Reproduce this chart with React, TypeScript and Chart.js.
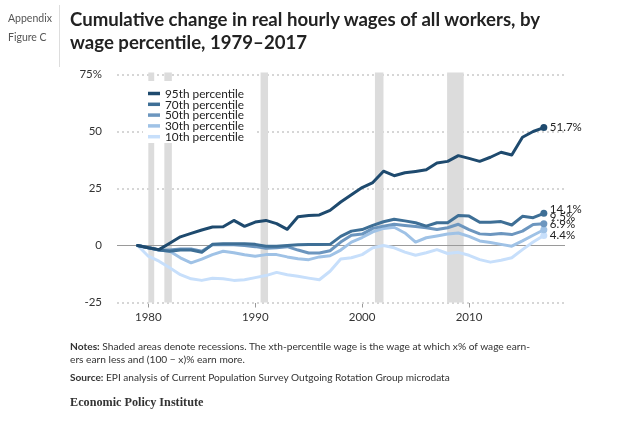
import { useEffect, useRef } from "react";
import { Chart, registerables } from "chart.js";

Chart.register(...registerables);

const years = [
  1979, 1980, 1981, 1982, 1983, 1984, 1985, 1986, 1987, 1988, 1989, 1990, 1991,
  1992, 1993, 1994, 1995, 1996, 1997, 1998, 1999, 2000, 2001, 2002, 2003, 2004,
  2005, 2006, 2007, 2008, 2009, 2010, 2011, 2012, 2013, 2014, 2015, 2016, 2017,
];

const p95 = [
  0, -1, -1.8, 1, 3.8, 5.3, 6.8, 8.1, 8.2, 11, 8.4, 10.3, 11, 9.6, 7.1, 12.6,
  13.2, 13.4, 15.4, 19.1, 22.3, 25.4, 27.6, 32.6, 30.6, 31.9, 32.5, 33.2, 36.2,
  36.9, 39.4, 38.2, 36.9, 38.7, 40.9, 39.7, 47.5, 50, 51.7,
];
const p70 = [
  0, -1, -2, -2.5, -2, -2, -3, 0.5, 0.8, 0.8, 0.8, 0.5, -0.3, -0.3, 0, 0.3, 0.4,
  0.4, 0.5, 4, 6.3, 7, 8.8, 10.4, 11.5, 10.8, 10, 8.5, 10, 10, 13.2, 12.9, 10.2,
  10.2, 10.5, 9, 12.8, 12.2, 14.1,
];
const p50 = [
  0, -1, -2, -2, -1.5, -1.5, -2.5, 0.3, 0.3, 0.3, 0, -0.5, -1.2, -1, -0.5, -2,
  -3.3, -3.3, -2.3, 1.5, 4.5, 5, 7.5, 8.5, 9.3, 8.8, 8.3, 7.8, 7, 7.8, 9.3, 7,
  5.1, 4.8, 5.3, 4.8, 6.3, 9.2, 9.5,
];
const p30 = [
  0, -1, -2, -2.5, -5.4, -7.6, -6, -4, -2.5, -3.2, -4.1, -4.7, -4, -4, -5, -5.8,
  -6.2, -5, -4.5, -2, 1.5, 3.5, 6, 7.5, 8, 5.5, 1.5, 3.4, 4.2, 5, 5.5, 4, 2, 1.3,
  0.5, -0.3, 2, 4.5, 6.9,
];
const p10 = [
  0, -4.7, -6.9, -9.8, -12.8, -14.6, -15.3, -14.4, -14.6, -15.3, -15, -14.1,
  -13.2, -11.8, -12.8, -13.5, -14.3, -15, -11.3, -5.9, -5.4, -4, -1, 0, -1, -2.9,
  -4.3, -3.2, -1.8, -3.5, -3, -4.3, -6.2, -7.3, -6.5, -5.4, -1.8, 1.5, 4.4,
];

const seriesNames = [
  "95th percentile",
  "70th percentile",
  "50th percentile",
  "30th percentile",
  "10th percentile",
];
const seriesValues = [p95, p70, p50, p30, p10];
const endLabels = ["51.7%", "14.1%", "9.5%", "6.9%", "4.4%"];

// recessions (start, end) in fractional years
const recessions = [
  [1980.0, 1980.55],
  [1981.5, 1982.2],
  [1990.5, 1991.2],
  [2001.2, 2002.0],
  [2007.95, 2009.5],
];

const xTicks = [1980, 1990, 2000, 2010];
const yTicks = [-25, 0, 25, 50, 75];

const colors = ["#1e4a6e", "#3e6f96", "#6c96bf", "#9fc2e6", "#c7dffb"];
const labelShift = [0, -4, -7, -5, 0];

const FONT = "Lato, 'Open Sans', sans-serif";

const bandsPlugin = {
  id: "bands",
  beforeDatasetsDraw(chart: any) {
    const { ctx, chartArea, scales } = chart;
    const x = scales.x;
    const y = scales.y;
    ctx.save();
    ctx.fillStyle = "#dcdcdc";
    recessions.forEach(([a, b]) => {
      const x0 = x.getPixelForValue(a);
      const x1 = x.getPixelForValue(b);
      ctx.fillRect(x0, chartArea.top - 2, x1 - x0, chartArea.bottom - chartArea.top + 2);
    });
    // solid zero line
    const y0 = y.getPixelForValue(0);
    ctx.strokeStyle = "#9a9a9a";
    ctx.lineWidth = 1;
    ctx.beginPath();
    ctx.moveTo(chartArea.left, y0);
    ctx.lineTo(chartArea.right, y0);
    ctx.stroke();
    ctx.restore();
  },
};

const labelsPlugin = {
  id: "endLabels",
  afterDatasetsDraw(chart: any) {
    const { ctx } = chart;
    ctx.save();
    ctx.font = `11.5px ${FONT}`;
    ctx.fillStyle = "#222";
    ctx.textBaseline = "middle";
    ctx.textAlign = "left";
    chart.data.datasets.forEach((_: any, i: number) => {
      const meta = chart.getDatasetMeta(i);
      const pt = meta.data[meta.data.length - 1];
      ctx.fillText(endLabels[i], pt.x + 6, pt.y + labelShift[i]);
    });

    // legend box in the upper left of the plot
    ctx.font = `11.8px ${FONT}`;
    ctx.fillStyle = "#fff";
    ctx.fillRect(143, 81, 112, 62);
    seriesNames.forEach((name, i) => {
      const yy = 93.5 + i * 10.8;
      ctx.strokeStyle = colors[i];
      ctx.lineWidth = 3.5;
      ctx.beginPath();
      ctx.moveTo(148, yy);
      ctx.lineTo(160, yy);
      ctx.stroke();
      ctx.fillStyle = "#222";
      ctx.fillText(name, 165, yy + 0.5);
    });
    ctx.restore();
  },
};

export default function App() {
  const ref = useRef<HTMLCanvasElement>(null);

  useEffect(() => {
    if (!ref.current) return;
    const last = years.length - 1;
    const chart = new Chart(ref.current, {
      type: "line",
      data: {
        datasets: seriesValues.map((vals, i) => ({
          label: seriesNames[i],
          data: years.map((yr, j) => ({ x: yr, y: vals[j] })),
          borderColor: colors[i],
          backgroundColor: colors[i],
          borderWidth: 3,
          borderJoinStyle: "round" as const,
          borderCapStyle: "round" as const,
          tension: 0,
          pointRadius: (c: any) => (c.dataIndex === last ? 3.5 : 0),
          pointHoverRadius: 0,
          pointBorderWidth: 0,
        })),
      },
      options: {
        responsive: false,
        animation: false,
        events: [],
        layout: { padding: { left: 0, right: 75, top: 74.5, bottom: 92.5 } },
        plugins: {
          legend: { display: false },
          tooltip: { enabled: false },
          title: { display: false },
        },
        scales: {
          x: {
            type: "linear",
            min: 1977.07,
            max: 2018.98,
            afterBuildTicks: (s: any) => {
              s.ticks = xTicks.map((v) => ({ value: v }));
            },
            afterFit: (s: any) => {
              s.height = 30;
            },
            border: { display: false },
            grid: {
              drawOnChartArea: false,
              drawTicks: true,
              tickLength: 5,
              tickColor: "#999",
              tickWidth: 1,
            },
            ticks: {
              padding: 3,
              color: "#333",
              font: { family: FONT, size: 11.5 },
              callback: (v: any) => String(v),
            },
          },
          y: {
            min: -25,
            max: 75,
            afterBuildTicks: (s: any) => {
              s.ticks = yTicks.map((v) => ({ value: v }));
            },
            afterFit: (s: any) => {
              s.width = 117;
            },
            border: { display: false, dash: [2, 3] },
            grid: {
              drawTicks: false,
              lineWidth: 2,
              color: (c: any) => (c.tick && c.tick.value === 0 ? "rgba(0,0,0,0)" : "#d6d6d6"),
            },
            ticks: {
              padding: 15,
              color: "#333",
              font: { family: FONT, size: 11.5 },
              callback: (v: any) => (v === 75 ? "75%" : String(v)),
            },
          },
        },
      },
      plugins: [bandsPlugin, labelsPlugin],
    });
    return () => {
      chart.destroy();
    };
  }, []);

  return (
    <div
      style={{
        position: "absolute",
        left: 0,
        top: 0,
        width: 640,
        height: 425,
        background: "#fff",
        fontFamily: FONT,
        color: "#222",
      }}
    >
      <canvas
        ref={ref}
        width={640}
        height={425}
        style={{ position: "absolute", left: 0, top: 0, width: 640, height: 425 }}
      />
      <div
        style={{
          position: "absolute",
          left: 8,
          top: 9,
          fontSize: 10.5,
          lineHeight: "18.6px",
          color: "#555",
        }}
      >
        Appendix
        <br />
        Figure C
      </div>
      <div
        style={{
          position: "absolute",
          left: 59,
          top: 5,
          width: 1,
          height: 62,
          background: "#ddd",
        }}
      />
      <div
        style={{
          position: "absolute",
          left: 70,
          top: 8,
          fontSize: 18.6,
          fontWeight: 700,
          lineHeight: "23px",
          color: "#222",
          whiteSpace: "nowrap",
        }}
      >
        Cumulative change in real hourly wages of all workers, by
        <br />
        wage percentile, 1979–2017
      </div>
      <div
        style={{
          position: "absolute",
          left: 70,
          top: 339.5,
          fontSize: 10.2,
          lineHeight: "13px",
          color: "#333",
          whiteSpace: "nowrap",
        }}
      >
        <b>Notes:</b> Shaded areas denote recessions. The xth-percentile wage is the wage at which x% of wage earn-
        <br />
        ers earn less and (100 − x)% earn more.
      </div>
      <div
        style={{
          position: "absolute",
          left: 70,
          top: 370.5,
          fontSize: 10.1,
          lineHeight: "13px",
          color: "#333",
          whiteSpace: "nowrap",
        }}
      >
        <b>Source:</b> EPI analysis of Current Population Survey Outgoing Rotation Group microdata
      </div>
      <div
        style={{
          position: "absolute",
          left: 70,
          top: 395,
          fontSize: 12.2,
          lineHeight: "14px",
          fontFamily: "'Liberation Serif', serif",
          fontWeight: 700,
          color: "#333",
          whiteSpace: "nowrap",
        }}
      >
        Economic Policy Institute
      </div>
    </div>
  );
}
